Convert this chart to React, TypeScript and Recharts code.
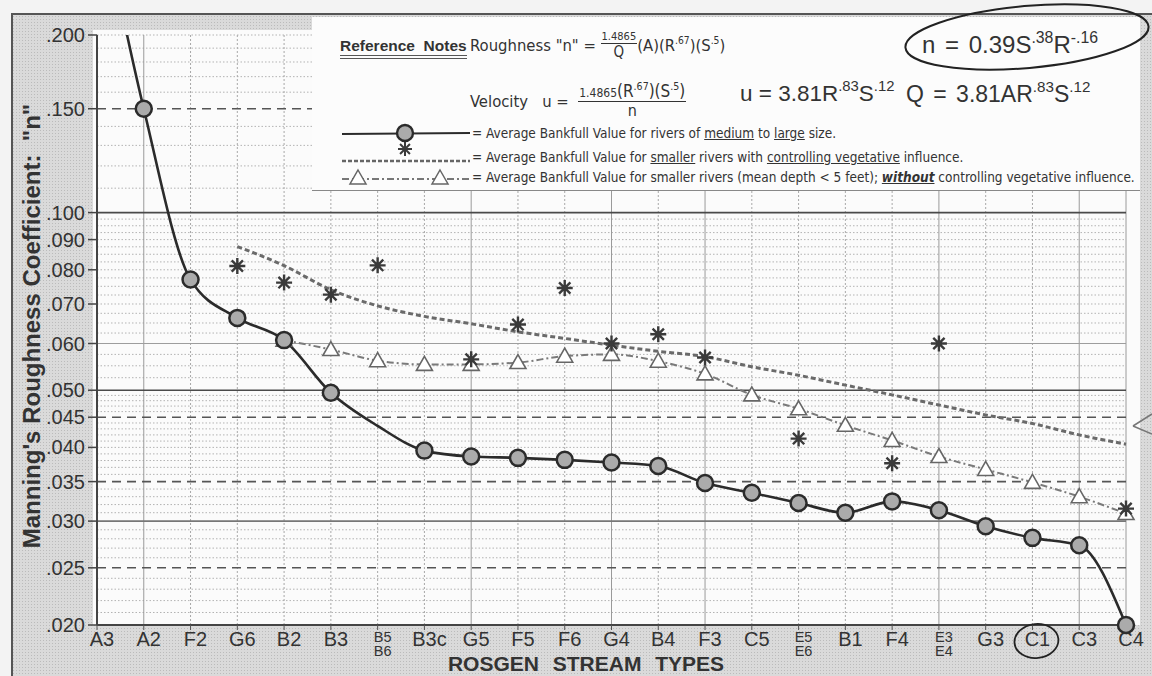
import React from 'react';
import { ComposedChart, Line, XAxis, YAxis, ReferenceLine } from 'recharts';

// Rosgen stream types along the bottom (two-line labels use "/")
const streamTypes = [
  'A3', 'A2', 'F2', 'G6', 'B2', 'B3', 'B5/B6', 'B3c', 'G5', 'F5', 'F6', 'G4',
  'B4', 'F3', 'C5', 'E5/E6', 'B1', 'F4', 'E3/E4', 'G3', 'C1', 'C3', 'C4',
];

// circles: rivers of medium to large size (A3 runs off the top of the sheet)
const mediumLarge = [
  0.35, 0.150, 0.0770, 0.0663, 0.0608, 0.0495, 0.0435, 0.0395, 0.0386, 0.0384, 0.0381, 0.0377,
  0.0372, 0.0348, 0.0335, 0.0322, 0.0310, 0.0324, 0.0313, 0.0294, 0.0281, 0.0273, 0.020,
];
// the curve passes these types without a circle marker
const unmarkedMedium = ['A3', 'B5/B6'];

// dashed curve: smaller rivers with controlling vegetative influence
const vegetativeTrend = [
  null, null, null, 0.0876, 0.0813, 0.0740, 0.0695, 0.0667, 0.0648, 0.0628, 0.0612, 0.0596,
  0.0582, 0.0570, 0.0548, 0.0530, 0.0510, 0.0491, 0.0472, 0.0454, 0.0439, 0.0420, 0.0405,
];

// asterisks: individual vegetative-influence values
const vegetativeSites = [
  null, null, null, 0.0812, 0.0761, 0.0726, 0.0814, null, 0.0564, 0.0646, 0.0745, 0.0600,
  0.0622, 0.0568, null, 0.0414, null, 0.0376, 0.0600, null, null, null, 0.0315,
];

// triangles: smaller rivers (mean depth < 5 ft) without vegetative influence
const noVegetative = [
  null, null, null, null, 0.0608, 0.0586, 0.0561, 0.0553, 0.0553, 0.0557, 0.0571, 0.0575,
  0.0560, 0.0533, 0.0491, 0.0465, 0.0436, 0.0411, 0.0386, 0.0367, 0.0349, 0.0330, 0.0309,
];

const yTicks = [0.02, 0.025, 0.03, 0.035, 0.04, 0.045, 0.05, 0.06, 0.07, 0.08, 0.09, 0.1, 0.15, 0.2];
const dashedLevels = [0.025, 0.035, 0.045, 0.15];
const solidLevels = [0.03, 0.05, 0.1];
const lightSolidLevels = [0.06];
const solidColumns = ['A2', 'G5', 'G4', 'F3', 'E3/E4', 'C3', 'C4'];

// fine graph-paper rulings
const minorLevels: number[] = [];
for (let k = 21; k < 50; k++) minorLevels.push(k / 1000);
for (let k = 21; k < 40; k++) minorLevels.push(k / 400);
for (let k = 11; k <= 20; k++) minorLevels.push(k / 100);
const majors = [...dashedLevels, ...solidLevels, ...lightSolidLevels];
const gridLevels = minorLevels.filter((v) => !majors.some((m) => Math.abs(m - v) < 1e-6));

const rows = streamTypes.map((type, i) => ({
  type,
  medium: mediumLarge[i],
  mediumMark: unmarkedMedium.includes(type) ? null : mediumLarge[i],
  vegTrend: vegetativeTrend[i],
  vegSite: vegetativeSites[i],
  noVeg: noVegetative[i],
}));

const sans = '"Liberation Sans", Arial, sans-serif';
const narrow = '"Liberation Sans Narrow", "Arial Narrow", "DejaVu Sans Condensed", sans-serif';
const ink = '#333';

const fmtTick = (v: number) => '.' + String(Math.round(v * 1000)).padStart(3, '0');

const CircleDot = (p: any) => {
  if (p.cx == null || p.cy == null || p.value == null) return <g key={p.key} />;
  return <circle key={p.key} cx={p.cx} cy={p.cy} r={8} fill="#ababab" stroke="#2b2b2b" strokeWidth={2.5} />;
};

const starPath = (cx: number, cy: number, r: number) =>
  [0, 45, 90, 135]
    .map((a) => {
      const t = (a * Math.PI) / 180;
      const dx = r * Math.cos(t);
      const dy = r * Math.sin(t);
      return `M${cx - dx},${cy - dy}L${cx + dx},${cy + dy}`;
    })
    .join('');

const StarDot = (p: any) => {
  if (p.cx == null || p.cy == null || p.value == null) return <g key={p.key} />;
  return (
    <g key={p.key}>
      <path d={starPath(p.cx, p.cy, 8)} stroke="#3a3a3a" strokeWidth={2.4} fill="none" />
      <circle cx={p.cx} cy={p.cy} r={2.5} fill="#3a3a3a" />
    </g>
  );
};

const triPath = (cx: number, cy: number) => `M${cx},${cy - 8}L${cx + 8},${cy + 6}L${cx - 8},${cy + 6}Z`;

const TriDot = (p: any) => {
  if (p.cx == null || p.cy == null || p.value == null) return <g key={p.key} />;
  return <path key={p.key} d={triPath(p.cx, p.cy)} fill="#fff" stroke="#666" strokeWidth={1.6} />;
};

const StreamTick = (p: any) => {
  const { x, y, payload } = p;
  const parts = String(payload.value).split('/');
  const cx = x + 5;
  if (parts.length === 2) {
    return (
      <g>
        <text x={cx} y={y + 10} textAnchor="middle" fontSize={14.5} fill="#333" fontFamily={sans}>{parts[0]}</text>
        <text x={cx} y={y + 24} textAnchor="middle" fontSize={14.5} fill="#333" fontFamily={sans}>{parts[1]}</text>
      </g>
    );
  }
  return (
    <g>
      <text x={cx} y={y + 14} textAnchor="middle" fontSize={20} fill="#333" fontFamily={sans}>{payload.value}</text>
      {payload.value === 'C1' && (
        <ellipse cx={x + 4} cy={y + 9} rx={22} ry={17} fill="none" stroke="#222" strokeWidth={1.8} transform={`rotate(-6 ${x + 4} ${y + 9})`} />
      )}
    </g>
  );
};

const Sup = ({ children, size = '0.62em' }: { children: React.ReactNode; size?: string }) => (
  <span style={{ fontSize: size, position: 'relative', top: '-0.65em' }}>{children}</span>
);

const bigFormula: React.CSSProperties = {
  position: 'absolute', height: 32, lineHeight: '32px', fontFamily: sans, whiteSpace: 'nowrap',
};

function Notes() {
  const row = (top: number, content: React.ReactNode) => (
    <div style={{ position: 'absolute', left: 160, top, height: 20, lineHeight: '20px', fontFamily: narrow, fontSize: 13.5, whiteSpace: 'nowrap' }}>
      {content}
    </div>
  );
  return (
    <div style={{ position: 'absolute', left: 312, top: 17, width: 828, height: 173, background: '#fcfcfc', color: ink, borderBottom: '1.5px solid #888' }}>
      <div style={{ position: 'absolute', left: 28, top: 19, fontFamily: sans, fontWeight: 700, fontSize: 15.5, lineHeight: '19px', borderBottom: '4px double #555', whiteSpace: 'nowrap' }}>
        Reference&nbsp; Notes
      </div>
      <div style={{ position: 'absolute', left: 158, top: 12, height: 32, display: 'flex', alignItems: 'center', fontFamily: narrow, fontSize: 16.5, whiteSpace: 'nowrap' }}>
        <span>Roughness "n" =&nbsp;</span>
        <span style={{ display: 'inline-flex', flexDirection: 'column', alignItems: 'center', lineHeight: 1 }}>
          <span style={{ fontSize: 11, borderBottom: '1px solid #333', padding: '0 1px 1px' }}>1.4865</span>
          <span style={{ fontSize: 15, paddingTop: 1 }}>Q</span>
        </span>
        <span>(A)(R<Sup>.67</Sup>)(S<Sup>.5</Sup>)</span>
      </div>
      <div style={{ ...bigFormula, left: 610, top: 12, fontSize: 24, wordSpacing: 3 }}>
        n = 0.39S<Sup size="0.66em">.38</Sup>R<Sup size="0.66em">-.16</Sup>
      </div>
      <div style={{ position: 'absolute', left: 158, top: 64, height: 40, display: 'flex', alignItems: 'center', fontFamily: narrow, fontSize: 16.5, whiteSpace: 'nowrap' }}>
        <span>Velocity&nbsp;&nbsp; u =&nbsp;&nbsp;</span>
        <span style={{ display: 'inline-flex', flexDirection: 'column', alignItems: 'center', lineHeight: 1 }}>
          <span style={{ fontSize: 17, borderBottom: '1px solid #333', padding: '0 1px 1px', whiteSpace: 'nowrap' }}>
            <span style={{ fontSize: 12 }}>1.4865</span>(R<Sup>.67</Sup>)(S<Sup>.5</Sup>)
          </span>
          <span style={{ fontSize: 16, paddingTop: 1 }}>n</span>
        </span>
      </div>
      <div style={{ ...bigFormula, left: 428, top: 61, fontSize: 22.5 }}>
        u = 3.81R<Sup size="0.66em">.83</Sup>S<Sup size="0.66em">.12</Sup>
      </div>
      <div style={{ ...bigFormula, left: 594, top: 61, fontSize: 23, wordSpacing: 3 }}>
        Q = 3.81AR<Sup size="0.66em">.83</Sup>S<Sup size="0.66em">.12</Sup>
      </div>
      {row(106, <>= Average Bankfull Value for rivers of <u>medium</u> to <u>large</u> size.</>)}
      {row(130, <>= Average Bankfull Value for <u>smaller</u> rivers with <u>controlling vegetative</u> influence.</>)}
      {row(150, <>= Average Bankfull Value for smaller rivers (mean depth &lt; 5 feet); <b><i><u>without</u></i></b> controlling vegetative influence.</>)}
      <svg width={828} height={173} style={{ position: 'absolute', left: 0, top: 0 }}>
        <line x1={30} y1={117} x2={158} y2={116} stroke="#2b2b2b" strokeWidth={2.2} />
        <circle cx={93} cy={116} r={8} fill="#ababab" stroke="#2b2b2b" strokeWidth={2.4} />
        <path d={starPath(93, 132, 7)} stroke="#3a3a3a" strokeWidth={2} fill="none" />
        <line x1={30} y1={144} x2={158} y2={144} stroke="#666" strokeWidth={2.5} strokeDasharray="4 2" />
        <line x1={30} y1={162} x2={158} y2={162} stroke="#777" strokeWidth={1.8} strokeDasharray="7 3 2 3" />
        <path d={triPath(46, 161)} fill="#fff" stroke="#666" strokeWidth={1.5} />
        <path d={triPath(128, 161)} fill="#fff" stroke="#666" strokeWidth={1.5} />
      </svg>
    </div>
  );
}

export default function App() {
  return (
    <div
      style={{
        position: 'absolute', left: 0, top: 0, width: 1152, height: 676, overflow: 'hidden',
        background: '#dadada',
        backgroundImage: 'radial-gradient(rgba(0,0,0,0.14) 0.8px, transparent 1px)',
        backgroundSize: '3px 3px',
        fontFamily: sans,
      }}
    >
      <div style={{ position: 'absolute', left: 0, top: 0, width: 1152, height: 14, background: '#f3f3f3' }} />
      <div style={{ position: 'absolute', left: 0, top: 0, width: 11, height: 676, background: '#f3f3f3' }} />
      <div style={{ position: 'absolute', left: 11, top: 13, width: 1141, height: 2, background: '#555' }} />
      <div style={{ position: 'absolute', left: 11, top: 13, width: 2, height: 663, background: '#555' }} />
      <div style={{ position: 'absolute', left: 93, top: 30, width: 1047, height: 595, background: '#fbfbfb' }} />

      <div style={{ position: 'absolute', left: 0, top: 0 }}>
        <ComposedChart width={1152} height={676} data={rows} margin={{ top: 35, right: 26, bottom: 0, left: 37 }}>
          {gridLevels.map((v) => (
            <ReferenceLine key={`g${v}`} yAxisId="n" y={v} stroke="#b3b3b3" strokeWidth={1} strokeDasharray="1.5 2" zIndex={-10} />
          ))}
          {streamTypes.map((t) => (
            <ReferenceLine
              key={`v${t}`}
              yAxisId="n"
              x={t}
              stroke={solidColumns.includes(t) ? '#9a9a9a' : '#a8a8a8'}
              strokeWidth={1}
              strokeDasharray={solidColumns.includes(t) ? undefined : '2 2'}
              zIndex={-10}
            />
          ))}
          {lightSolidLevels.map((v) => (
            <ReferenceLine key={`l${v}`} yAxisId="n" y={v} stroke="#9d9d9d" strokeWidth={1.2} zIndex={-5} />
          ))}
          {dashedLevels.map((v) => (
            <ReferenceLine key={`d${v}`} yAxisId="n" y={v} stroke="#555" strokeWidth={1.6} strokeDasharray="9 6" zIndex={-5} />
          ))}
          {solidLevels.map((v) => (
            <ReferenceLine key={`s${v}`} yAxisId="n" y={v} stroke={v === 0.03 ? '#777' : '#4a4a4a'} strokeWidth={1.6} zIndex={-5} />
          ))}

          <XAxis
            dataKey="type"
            type="category"
            interval={0}
            height={51}
            tickSize={5}
            tickMargin={2}
            axisLine={{ stroke: '#444', strokeWidth: 2 }}
            tickLine={{ stroke: '#555' }}
            tick={<StreamTick />}
          />
          <YAxis
            yAxisId="n"
            type="number"
            scale="log"
            domain={[0.02, 0.2]}
            allowDataOverflow
            ticks={yTicks}
            interval={0}
            width={60}
            tickSize={9}
            tickMargin={3}
            tickFormatter={fmtTick}
            axisLine={{ stroke: '#444', strokeWidth: 2 }}
            tickLine={{ stroke: '#444', strokeWidth: 1.5 }}
            tick={{ fontSize: 20, fill: '#333', fontFamily: sans }}
          />
          <YAxis yAxisId="m" orientation="right" width={0} type="number" scale="log" domain={[0.02, 0.2]} ticks={yTicks} hide />

          <Line yAxisId="m" dataKey="vegTrend" type="monotone" stroke="#6a6a6a" strokeWidth={3} strokeDasharray="5 3" dot={false} activeDot={false} isAnimationActive={false} />
          <Line yAxisId="m" dataKey="noVeg" type="monotone" stroke="#7a7a7a" strokeWidth={2} strokeDasharray="7 3 2 3" dot={TriDot} activeDot={false} isAnimationActive={false} />
          <Line yAxisId="m" dataKey="vegSite" stroke="none" dot={StarDot} activeDot={false} isAnimationActive={false} />
          <Line yAxisId="n" dataKey="medium" type="monotone" stroke="#2b2b2b" strokeWidth={2.6} dot={false} activeDot={false} isAnimationActive={false} />
          <Line yAxisId="m" dataKey="mediumMark" stroke="none" dot={CircleDot} activeDot={false} isAnimationActive={false} />
        </ComposedChart>
      </div>

      <Notes />

      <div
        style={{
          position: 'absolute', left: 32, top: 326, transform: 'translate(-50%, -50%) rotate(-90deg)',
          fontFamily: sans, fontWeight: 700, fontSize: 24, color: ink, whiteSpace: 'nowrap',
        }}
      >
        Manning's Roughness Coefficient:&nbsp; "n"
      </div>
      <div
        style={{
          position: 'absolute', left: 586, top: 664, transform: 'translate(-50%, -50%)',
          fontFamily: sans, fontWeight: 700, fontSize: 21, color: ink, whiteSpace: 'nowrap', wordSpacing: 8,
        }}
      >
        ROSGEN STREAM TYPES
      </div>

      <svg width={1152} height={676} style={{ position: 'absolute', left: 0, top: 0, pointerEvents: 'none' }}>
        <ellipse cx={1027} cy={37} rx={122} ry={31} fill="none" stroke="#222" strokeWidth={2} transform="rotate(-5 1027 37)" />
        <path d="M1133,426 L1152,414 M1133,426 L1152,434" stroke="#777" strokeWidth={1.5} fill="none" />
      </svg>
    </div>
  );
}
